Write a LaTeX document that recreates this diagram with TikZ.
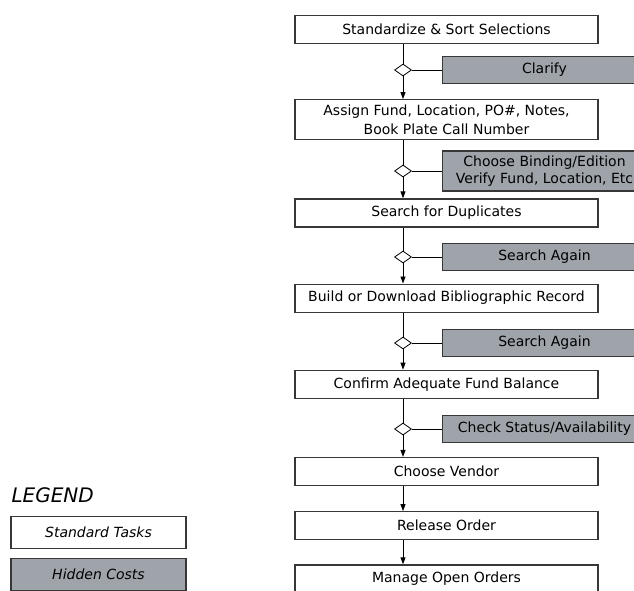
\documentclass[tikz,border=0pt]{standalone}
\usepackage{fontspec}
\setmainfont{DejaVu Sans}
\usepackage{xcolor}
\usetikzlibrary{arrows.meta,positioning,shapes.geometric}

\definecolor{hiddengray}{RGB}{159,164,171}
\definecolor{edgegray}{RGB}{55,55,55}

\begin{document}
\begin{tikzpicture}[x=1pt, y=-1pt,
        font=\fontsize{14}{19}\selectfont,
        task/.style={draw=edgegray, rectangle, line width=1.2pt, align=center, fill=white, inner sep=2pt, minimum width=303pt, minimum height=28pt},
        hidden/.style={task, fill=hiddengray, minimum width=204pt, minimum height=27pt},
        check/.style={draw, diamond, line width=0.8pt, fill=white, inner sep=0pt, minimum width=17pt, minimum height=12pt},
        link/.style={line width=0.9pt},
        >={Triangle[length=7pt,width=5pt]}]

        \clip (0,0) rectangle (634,591);
        \useasboundingbox (0,0) rectangle (634,591);

        % Standard tasks
        \node[task] (sort) at (446.5,29.5) {Standardize \& Sort Selections};
        \node[task, below=55pt of sort, minimum height=40pt] (assign) {Assign Fund, Location, PO\#, Notes,\\Book Plate Call Number};
        \node[task, below=58pt of assign] (dups) {Search for Duplicates};
        \node[task, below=56pt of dups] (biblio) {Build or Download Bibliographic Record};
        \node[task, below=57pt of biblio] (fund) {Confirm Adequate Fund Balance};
        \node[task, below=58pt of fund] (vendor) {Choose Vendor};
        \node[task, below=25pt of vendor] (release) {Release Order};
        \node[task, below=24pt of release] (manage) {Manage Open Orders};

        % Decision points
        \node[check] (chk1) at (403,70) {};
        \node[check] (chk2) at (403,171) {};
        \node[check] (chk3) at (403,257) {};
        \node[check] (chk4) at (403,343) {};
        \node[check] (chk5) at (403,429) {};

        % Hidden costs
        \node[hidden, right=30pt of chk1] (clarify) {Clarify};
        \node[hidden, right=30pt of chk2, minimum height=40pt, font=\fontsize{14}{17}\selectfont] (binding) {Choose Binding/Edition\\Verify Fund, Location, Etc};
        \node[hidden, right=30pt of chk3] (again1) {Search Again};
        \node[hidden, right=30pt of chk4] (again2) {Search Again};
        \node[hidden, right=30pt of chk5] (status) {Check Status/Availability};

        % Connections
        \draw[link] (sort.south -| chk1) -- (chk1.north);
        \draw[link, ->] (chk1.south) -- (assign.north -| chk1);
        \draw[link] (chk1.east) -- (clarify.west);

        \draw[link] (assign.south -| chk2) -- (chk2.north);
        \draw[link, ->] (chk2.south) -- (dups.north -| chk2);
        \draw[link] (chk2.east) -- (binding.west);

        \draw[link] (dups.south -| chk3) -- (chk3.north);
        \draw[link, ->] (chk3.south) -- (biblio.north -| chk3);
        \draw[link] (chk3.east) -- (again1.west);

        \draw[link] (biblio.south -| chk4) -- (chk4.north);
        \draw[link, ->] (chk4.south) -- (fund.north -| chk4);
        \draw[link] (chk4.east) -- (again2.west);

        \draw[link] (fund.south -| chk5) -- (chk5.north);
        \draw[link, ->] (chk5.south) -- (vendor.north -| chk5);
        \draw[link] (chk5.east) -- (status.west);

        \draw[link, ->] (vendor.south -| chk5) -- (release.north -| chk5);
        \draw[link, ->] (release.south -| chk5) -- (manage.north -| chk5);

        % Legend
        \node[anchor=base west, font=\fontsize{20}{24}\selectfont\itshape] (legend) at (8,502) {LEGEND};
        \node[task, minimum width=175pt, minimum height=32pt, font=\fontsize{14}{17}\selectfont\itshape] (stdkey) at (98.5,532.5) {Standard Tasks};
        \node[hidden, minimum width=175pt, minimum height=32pt, font=\fontsize{14}{17}\selectfont\itshape, below=9pt of stdkey] (hidkey) {Hidden Costs};

    \end{tikzpicture}
\end{document}
